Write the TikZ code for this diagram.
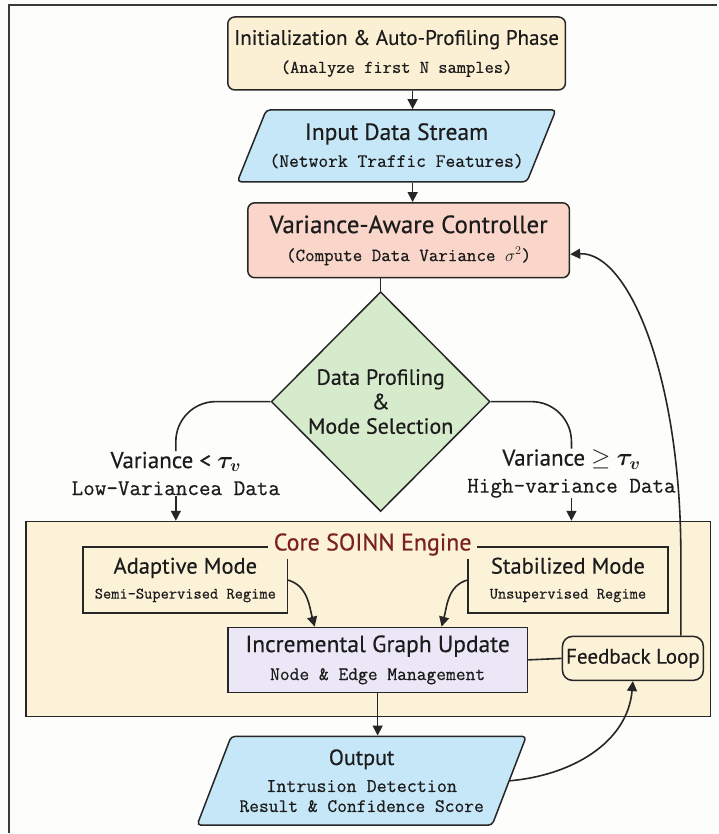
\documentclass[tikz,border=0pt]{standalone}
\usepackage{fontspec}
\usepackage{amsmath}
\setsansfont{PT Sans}[FakeBold=0.4]
\setmonofont{Latin Modern Mono}[FakeBold=0.6]
\usetikzlibrary{shapes.geometric,arrows.meta,positioning}

\definecolor{bgc}{HTML}{FDFDFB}
\definecolor{framec}{HTML}{3A3A3A}
\definecolor{linec}{HTML}{262626}
\definecolor{txtc}{HTML}{1C1C1C}
\definecolor{initfill}{HTML}{FBF0D3}
\definecolor{iofill}{HTML}{C6E7F8}
\definecolor{ctrlfill}{HTML}{F9D6C9}
\definecolor{dpfill}{HTML}{D6EACC}
\definecolor{soinnfill}{HTML}{FCF2D8}
\definecolor{incfill}{HTML}{EBE7F6}
\definecolor{corec}{HTML}{7B2020}

\newcommand\headtxt[2][21]{{\sffamily\fontsize{#1}{28}\selectfont #2}}
\newcommand\monotxt[2][18]{{\ttfamily\fontsize{#1}{28}\selectfont #2}}

\begin{document}
\begin{tikzpicture}[x=1pt,y=-1pt,
  line width=1.5pt,
  flowbox/.style={draw=linec, rounded corners=7pt, align=center, text=txtc,
    inner sep=0pt, font=\fontsize{18}{28}\selectfont},
  iobox/.style={trapezium, trapezium stretches=true, draw=linec, fill=iofill,
    rounded corners=4pt, align=center, text=txtc, inner sep=0pt,
    font=\fontsize{18}{27}\selectfont},
  plainbox/.style={align=center, text=txtc, inner sep=0pt,
    font=\fontsize{18}{27}\selectfont},
  link/.style={draw=linec, line width=1.6pt},
  flow/.style={link, -{Triangle[length=10pt,width=10pt]}}]

\fill[bgc] (0,0) rectangle (718,834);
\draw[framec, line width=1.6pt] (9,834) -- (9,5) -- (718,5);

\node[flowbox, fill=initfill, minimum width=338, minimum height=73] (init) at (397,53.5)
  {\headtxt{Initialization \& Auto-Profiling Phase}\\\monotxt{(Analyze first N samples)}};
\node[iobox, trapezium left angle=58, trapezium right angle=122,
  minimum width=320, minimum height=72] (inp) at (397,146)
  {\headtxt[23.5]{Input Data Stream}\\\monotxt[19]{(Network Traffic Features)}};
\node[flowbox, fill=ctrlfill, minimum width=322, minimum height=75] (ctrl) at (409,240.5)
  {\headtxt[25]{Variance-Aware Controller}\\\monotxt[18.5]{(Compute Data Variance $\sigma^2$)}};
\node[diamond, draw=linec, fill=dpfill, minimum width=219, minimum height=220,
  inner sep=0pt, align=center, text=txtc, font=\fontsize{22}{24.5}\selectfont\sffamily] (dp) at (381,402)
  {Data Profiling\\\&\\Mode Selection};

\node[plainbox] (lowlbl) at (176,474)
  {\headtxt[23]{Variance < $\boldsymbol{\tau_v}$}\\\monotxt[22.5]{Low-Variancea Data}};
\node[plainbox] (highlbl) at (572,474)
  {\headtxt[23]{Variance $\geq$ $\boldsymbol{\tau_v}$}\\\monotxt[22.5]{High-variance Data}};

\node[draw=linec, fill=soinnfill, minimum width=685, minimum height=195] (soinn) at (368.5,619.5) {};
\node[text=corec, inner sep=5pt, font=\sffamily\fontsize{24}{26}\selectfont] (core) at (373,545) {Core SOINN Engine};
\node[plainbox, minimum width=203, minimum height=65] (ad) at (185.5,580.5)
  {\headtxt[22.5]{Adaptive Mode}\\[-2pt]\monotxt[16]{Semi-Supervised Regime}};
\node[plainbox, minimum width=199, minimum height=65] (st) at (568.5,580.5)
  {\headtxt[22.5]{Stabilized Mode}\\[-2pt]\monotxt[16]{Unsupervised Regime}};
\draw[link] ([yshift=-12pt]ad.north east) -- (ad.south east) -- (ad.south west)
  -- (ad.north west) -- (core.west |- ad.north);
\draw[link] ([yshift=-12pt]st.north west) -- (st.south west) -- (st.south east)
  -- (st.north east) -- (core.east |- st.north);

\node[flowbox, rounded corners=0pt, fill=incfill, minimum width=300, minimum height=65] (inc) at (378,660.5)
  {\headtxt[23.5]{Incremental Graph Update}\\\monotxt[19]{Node \& Edge Management}};
\node[flowbox, rounded corners=10pt, fill=soinnfill, minimum width=141, minimum height=44] (fb) at (633.5,659)
  {\headtxt{Feedback Loop}};

\node[iobox, trapezium left angle=63, trapezium right angle=117,
  minimum width=330, minimum height=89] (out) at (362,781.5)
  {\headtxt[22]{Output}\\\monotxt[19.5]{Intrusion Detection}\\[-7pt]\monotxt[19]{Result \& Confidence Score}};

\draw[flow] ([xshift=16pt]init.south) -- ([xshift=16pt]init.south |- inp.north);
\draw[flow] ([xshift=16pt]inp.south) -- ([xshift=16pt]inp.south |- ctrl.north);
\draw[link] ([xshift=-28pt]ctrl.south) -- (dp.north);
\draw[link, rounded corners=40pt] (dp.west) -| (lowlbl.north);
\draw[link, rounded corners=40pt] (dp.east) -| (highlbl.north);
\draw[flow] (lowlbl.south) -- (lowlbl.south |- soinn.north);
\draw[flow] (highlbl.south) -- (highlbl.south |- soinn.north);
\draw[flow] (ad.east) to[out=-15,in=105] ([xshift=-63pt]inc.north);
\draw[flow] (st.west) to[out=195,in=75] ([xshift=64pt]inc.north);
\draw[link] (inc.east) -- (fb.west);
\draw[flow] (inc.south) -- (inc.south |- out.north);
\draw[flow] (out.east) to[out=5,in=-95] (fb.south);
\draw[flow] ([xshift=48pt]fb.north) -- ++(0,-80) .. controls +(0,-180) and +(58,-3) .. ([yshift=-14pt]ctrl.east);
\end{tikzpicture}
\end{document}
